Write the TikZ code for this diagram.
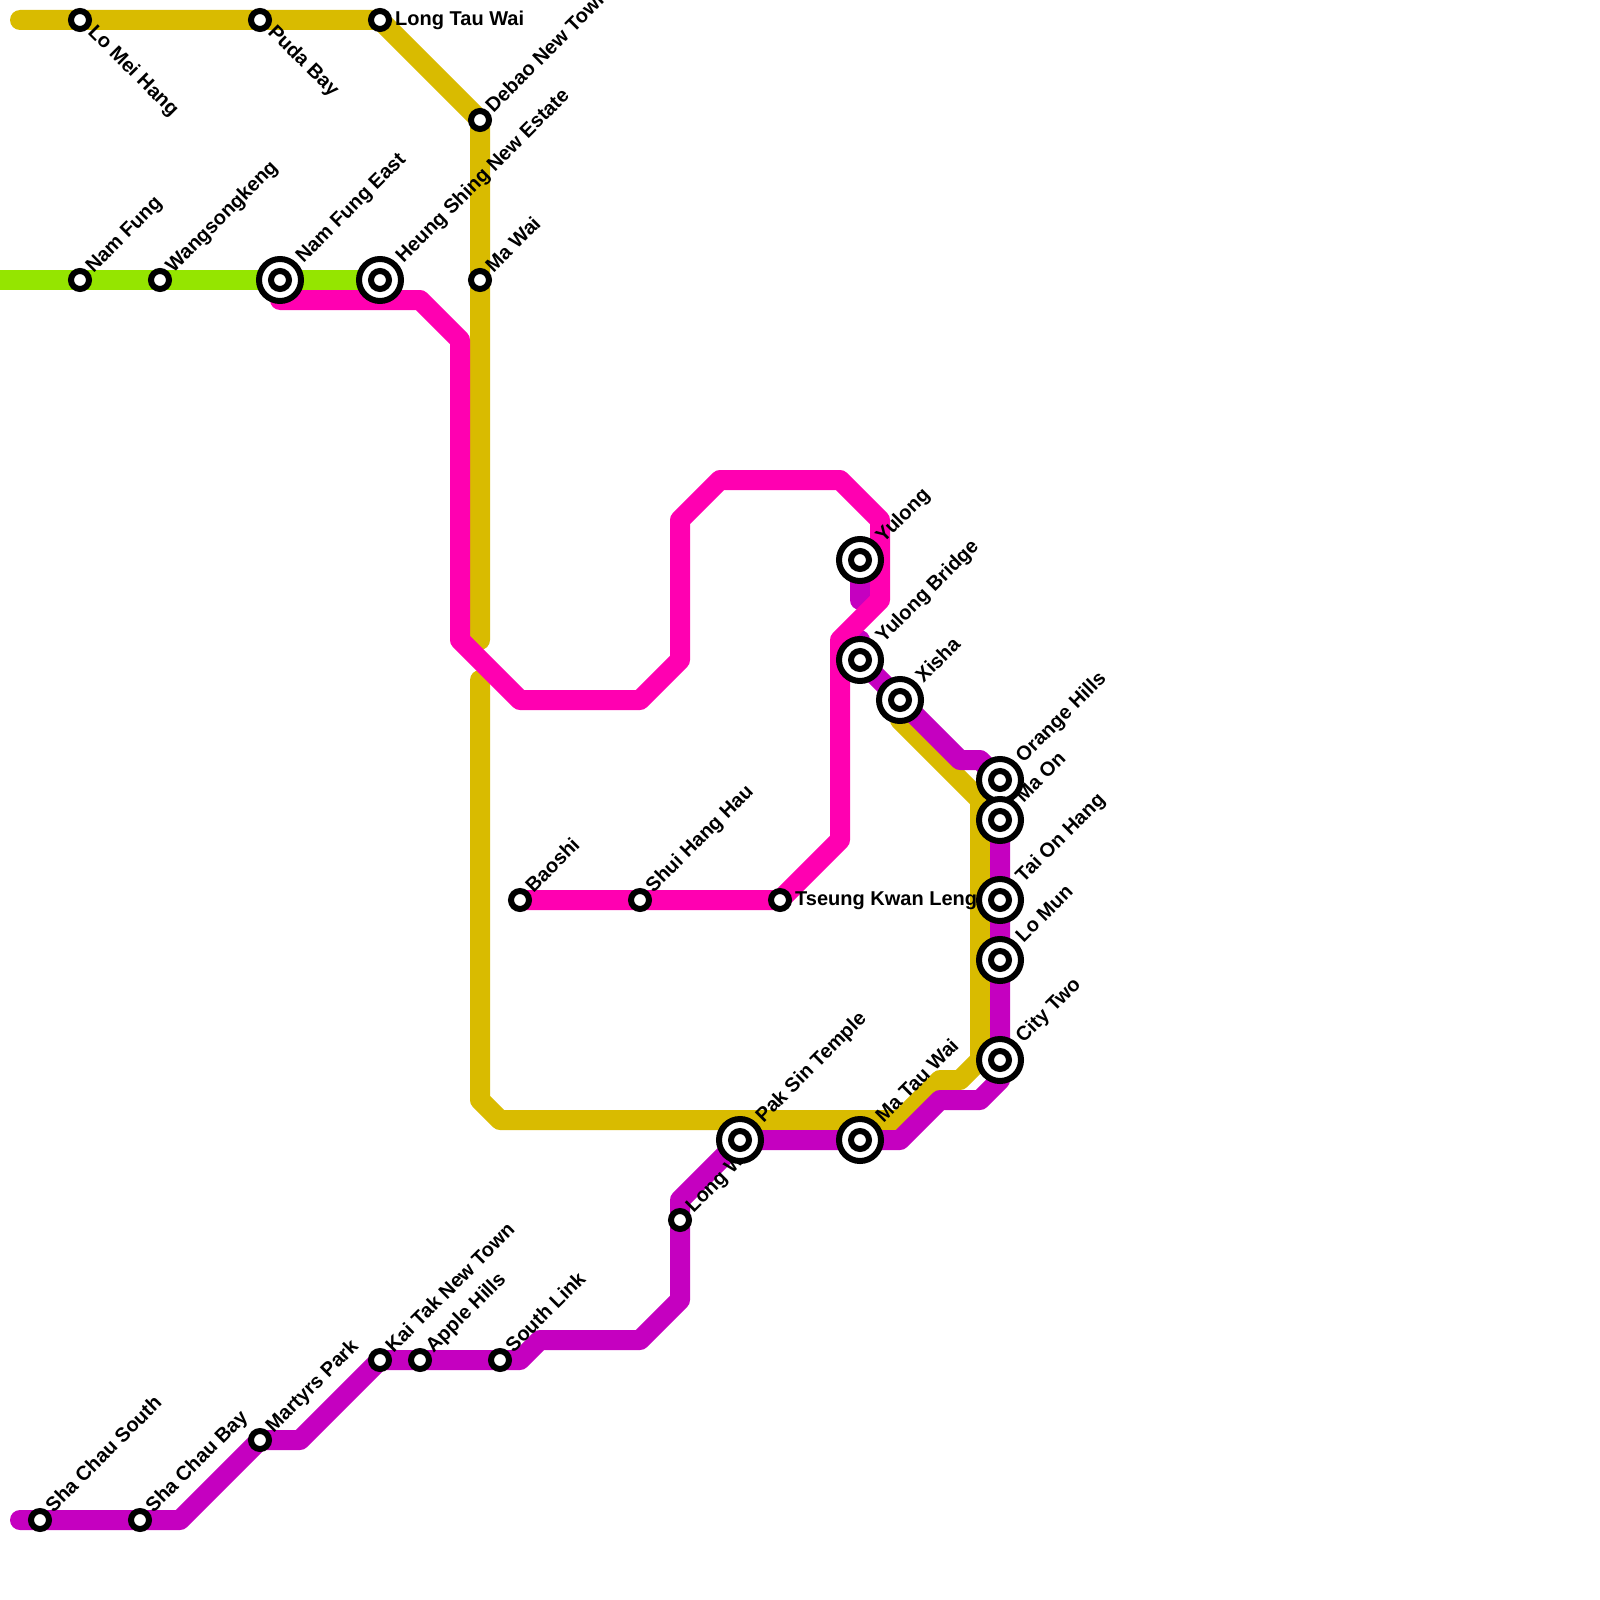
\documentclass[tikz,border=0pt]{standalone}
\usepackage{fontspec}
\setmainfont{Liberation Sans}
\definecolor{yel}{HTML}{D9BB00}
\definecolor{grn}{HTML}{95E500}
\definecolor{pnk}{HTML}{FF00B1}
\definecolor{prp}{HTML}{C500C0}
\tikzset{
  metro/.style={line width=20pt,line join=round,line cap=round},
  ring/.style={draw=black,fill=white,line width=6pt},
  lbl/.style={font=\bfseries\fontsize{20}{22}\selectfont,inner sep=0pt,text=black},
  up/.style={lbl,rotate=45,anchor=base west},
  down/.style={lbl,rotate=-45,anchor=base west},
  flat/.style={lbl,anchor=base west},
}
\begin{document}
\begin{tikzpicture}[x=1pt,y=-1pt]
\useasboundingbox (0,0) rectangle (1600,1600);
\fill[white] (0,0) rectangle (1600,1600);
% lines
\draw[metro,grn,line cap=butt] (0,280) -- (380,280);
\draw[metro,yel] (20,20) -- (380,20) -- (480,120) -- (480,640);
\draw[metro,yel] (480,680) -- (480,1100) -- (500,1120) -- (900,1120) -- (940,1080) -- (960,1080) -- (980,1060) -- (980,800) -- (900,720);
\draw[metro,prp] (20,1520) -- (180,1520) -- (260,1440) -- (300,1440) -- (380,1360) -- (520,1360) -- (540,1340) -- (640,1340) -- (680,1300) -- (680,1200) -- (740,1140) -- (900,1140) -- (940,1100) -- (980,1100) -- (1000,1080) -- (1000,780) -- (980,760) -- (960,760) -- (860,660) -- (860,640);
\draw[metro,prp] (860,560) -- (860,600);
\draw[metro,pnk] (280,300) -- (420,300) -- (460,340) -- (460,640) -- (520,700) -- (640,700) -- (680,660) -- (680,520) -- (720,480) -- (840,480) -- (880,520) -- (880,600) -- (840,640) -- (840,840) -- (780,900) -- (520,900);
% labels
\foreach \x/\y/\t in {
  80/280/Nam Fung,160/280/Wangsongkeng,480/280/Ma Wai,480/120/Debao New Town,
  520/900/Baoshi,640/900/Shui Hang Hau,680/1220/Long Wa,
  40/1520/Sha Chau South,140/1520/Sha Chau Bay,260/1440/Martyrs Park,380/1360/Kai Tak New Town,420/1360/Apple Hills,500/1360/South Link}
  \node[up] (l\x\y) at (\x+13.5,\y-6.5) {\t};
\foreach \x/\y/\t in {
  280/280/Nam Fung East,380/280/Heung Shing New Estate,860/560/Yulong,860/660/Yulong Bridge,900/700/Xisha,
  1000/780/Orange Hills,1000/820/Ma On,1000/900/Tai On Hang,1000/960/Lo Mun,1000/1060/City Two,740/1140/Pak Sin Temple,860/1140/Ma Tau Wai}
  \node[up] (l\x\y) at (\x+23.5,\y-16.5) {\t};
\node[down] (llo) at (87,33) {Lo Mei Hang};
\node[down] (lpu) at (267,33) {Puda Bay};
\node[flat] (llt) at (395,26) {Long Tau Wai};
\node[flat] (ltk) at (795,905) {Tseung Kwan Leng};
% stations
\foreach \x/\y/\n in {80/20/a,260/20/b,380/20/c,480/120/d,80/280/e,160/280/f,480/280/g,520/900/h,640/900/i,780/900/j,680/1220/k,40/1520/m,140/1520/n,260/1440/o,380/1360/p,420/1360/q,500/1360/r}{
  \coordinate (s\n) at (\x,\y);
  \draw[ring] (s\n) circle[radius=9pt];
}
\foreach \x/\y/\n in {280/280/A,380/280/B,860/560/C,860/660/D,900/700/E,1000/780/F,1000/820/G,1000/900/H,1000/960/I,1000/1060/J,740/1140/K,860/1140/L}{
  \coordinate (t\n) at (\x,\y);
  \draw[ring] (t\n) circle[radius=21pt];
  \draw[ring] (t\n) circle[radius=9pt];
}
\end{tikzpicture}
\end{document}
